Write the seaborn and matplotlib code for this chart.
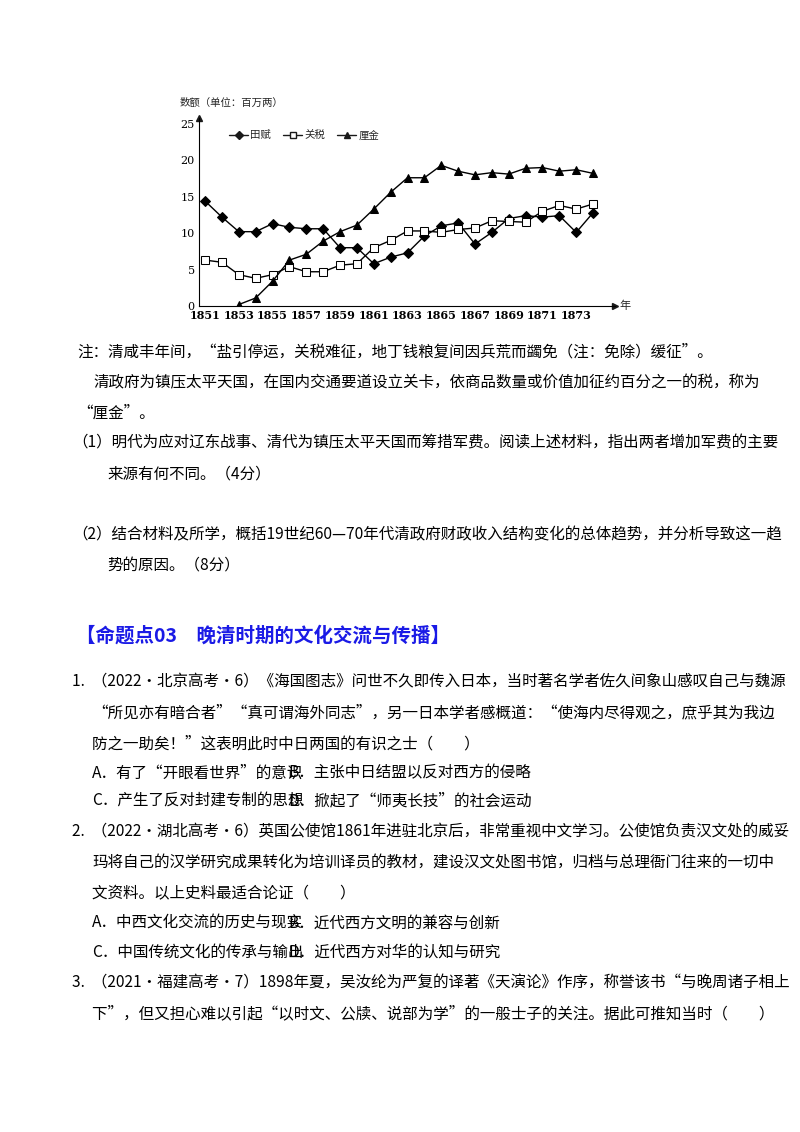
import matplotlib
matplotlib.use("Agg")
import matplotlib.pyplot as plt
import seaborn as sns
import pandas as pd
from matplotlib.lines import Line2D

sns.set_theme(style="white")
plt.rcParams['font.family'] = ['Noto Sans CJK SC', 'DejaVu Sans']

years = list(range(1851, 1875))
tianfu = [14.4, 12.2, 10.2, 10.2, 11.3, 10.8, 10.6, 10.6, 8.0, 8.0, 5.8, 6.7,
          7.3, 9.6, 11.0, 11.4, 8.5, 10.1, 12.0, 12.4, 12.2, 12.4, 10.1, 12.8]
guanshui = [6.3, 6.0, 4.3, 3.8, 4.3, 5.4, 4.7, 4.7, 5.6, 5.8, 8.0, 9.0,
            10.3, 10.3, 10.1, 10.5, 10.7, 11.7, 11.6, 11.5, 13.0, 13.8, 13.3, 14.0]
lijin_years = list(range(1853, 1875))
lijin = [0.2, 1.1, 3.4, 6.3, 7.1, 8.9, 10.2, 11.1, 13.3, 15.6, 17.6, 17.6,
         19.3, 18.5, 18.0, 18.3, 18.1, 18.9, 19.0, 18.5, 18.7, 18.2]
xticks = list(range(1851, 1874, 2))
yticks = [0, 5, 10, 15, 20, 25]

W, H = 800, 1132
fig = plt.figure(figsize=(8, 11.32), dpi=100)
fig.patch.set_facecolor("white")
ax = fig.add_axes([199 / W, (H - 306) / H, 416 / W, 188 / H])
ax.set_facecolor("white")

df1 = pd.DataFrame({"year": years, "v": tianfu})
df2 = pd.DataFrame({"year": years, "v": guanshui})
df3 = pd.DataFrame({"year": lijin_years, "v": lijin})
sns.lineplot(data=df1, x="year", y="v", ax=ax, color="black", lw=1, marker="D",
             markersize=5, markerfacecolor="black", markeredgecolor="black")
sns.lineplot(data=df2, x="year", y="v", ax=ax, color="black", lw=1, marker="s",
             markersize=6, markerfacecolor="white", markeredgecolor="black")
sns.lineplot(data=df3, x="year", y="v", ax=ax, color="black", lw=1, marker="^",
             markersize=6, markerfacecolor="black", markeredgecolor="black")

ax.set_xlim(1850.64, 1875.3)
ax.set_ylim(0, 25.8)
ax.set_xticks(xticks)
ax.set_xticklabels([str(t) for t in xticks], fontsize=8, family="DejaVu Serif", fontweight="bold")
ax.set_yticks(yticks)
ax.set_yticklabels([str(t) for t in yticks], fontsize=8, family="DejaVu Serif")
ax.set_xlabel("")
ax.set_ylabel("")
for s in ["top", "right"]:
    ax.spines[s].set_visible(False)
for s in ["left", "bottom"]:
    ax.spines[s].set_color("black")
    ax.spines[s].set_linewidth(0.8)
ax.tick_params(axis="y", length=3, direction="in", pad=3, colors="black")
ax.tick_params(axis="x", length=0, pad=3, colors="black")
ax.plot(1, 0, ">k", transform=ax.transAxes, clip_on=False, markersize=4)
ax.plot(0, 1, "^k", transform=ax.transAxes, clip_on=False, markersize=4)
ax.text(1.01, 0.0, "年", transform=ax.transAxes, fontsize=8, va="center")

handles = [Line2D([], [], color="k", lw=1, marker="D", markersize=4, mfc="k"),
           Line2D([], [], color="k", lw=1, marker="s", markersize=5, mfc="white"),
           Line2D([], [], color="k", lw=1, marker="^", markersize=5, mfc="k")]
ax.legend(handles, ["田赋", "关税", "厘金"], ncol=3, loc="upper left",
          bbox_to_anchor=(0.05, 0.985), frameon=False, fontsize=7.5,
          handlelength=1.8, handletextpad=0.2, columnspacing=1.2)
fig.text(180 / W, 1 - 103 / H, "数额（单位：百万两）", fontsize=7.5, va="center")

fs = 11.2
lines = [
    (77, 352, "注：清咸丰年间，“盐引停运，关税难征，地丁钱粮复间因兵荒而蠲免（注：免除）缓征”。"),
    (93, 383, "清政府为镇压太平天国，在国内交通要道设立关卡，依商品数量或价值加征约百分之一的税，称为"),
    (77, 413, "“厘金”。"),
    (72, 443, "（1）明代为应对辽东战事、清代为镇压太平天国而筹措军费。阅读上述材料，指出两者增加军费的主要"),
    (107, 474, "来源有何不同。（4分）"),
    (72, 535, "（2）结合材料及所学，概括19世纪60—70年代清政府财政收入结构变化的总体趋势，并分析导致这一趋"),
    (107, 566, "势的原因。（8分）"),
    (72, 682, "1.  （2022•北京高考•6）《海国图志》问世不久即传入日本，当时著名学者佐久间象山感叹自己与魏源"),
    (92, 713, "“所见亦有暗合者”“真可谓海外同志”，另一日本学者感概道：“使海内尽得观之，庶乎其为我边"),
    (92, 744, "防之一助矣！”这表明此时中日两国的有识之士（　　）"),
    (92, 773, "A．有了“开眼看世界”的意识"),
    (288, 773, "B．主张中日结盟以反对西方的侵略"),
    (92, 801, "C．产生了反对封建专制的思想"),
    (288, 801, "D．掀起了“师夷长技”的社会运动"),
    (72, 832, "2.  （2022•湖北高考•6）英国公使馆1861年进驻北京后，非常重视中文学习。公使馆负责汉文处的威妥"),
    (92, 863, "玛将自己的汉学研究成果转化为培训译员的教材，建设汉文处图书馆，归档与总理衙门往来的一切中"),
    (92, 894, "文资料。以上史料最适合论证（　　）"),
    (92, 923, "A．中西文化交流的历史与现实"),
    (288, 923, "B．近代西方文明的兼容与创新"),
    (92, 952, "C．中国传统文化的传承与输出"),
    (288, 952, "D．近代西方对华的认知与研究"),
    (72, 983, "3.  （2021•福建高考•7）1898年夏，吴汝纶为严复的译著《天演论》作序，称誉该书“与晚周诸子相上"),
    (92, 1014, "下”，但又担心难以引起“以时文、公牍、说部为学”的一般士子的关注。据此可推知当时（　　）"),
]
for x, y, t in lines:
    fig.text(x / W, 1 - y / H, t, fontsize=fs, va="center", ha="left", color="black")

fig.text(76 / W, 1 - 636 / H, "【命题点03　晚清时期的文化交流与传播】", fontsize=14,
         fontweight="bold", color="#1a1ae6", va="center", ha="left")

fig.savefig("out.png", dpi=100, facecolor="white")
